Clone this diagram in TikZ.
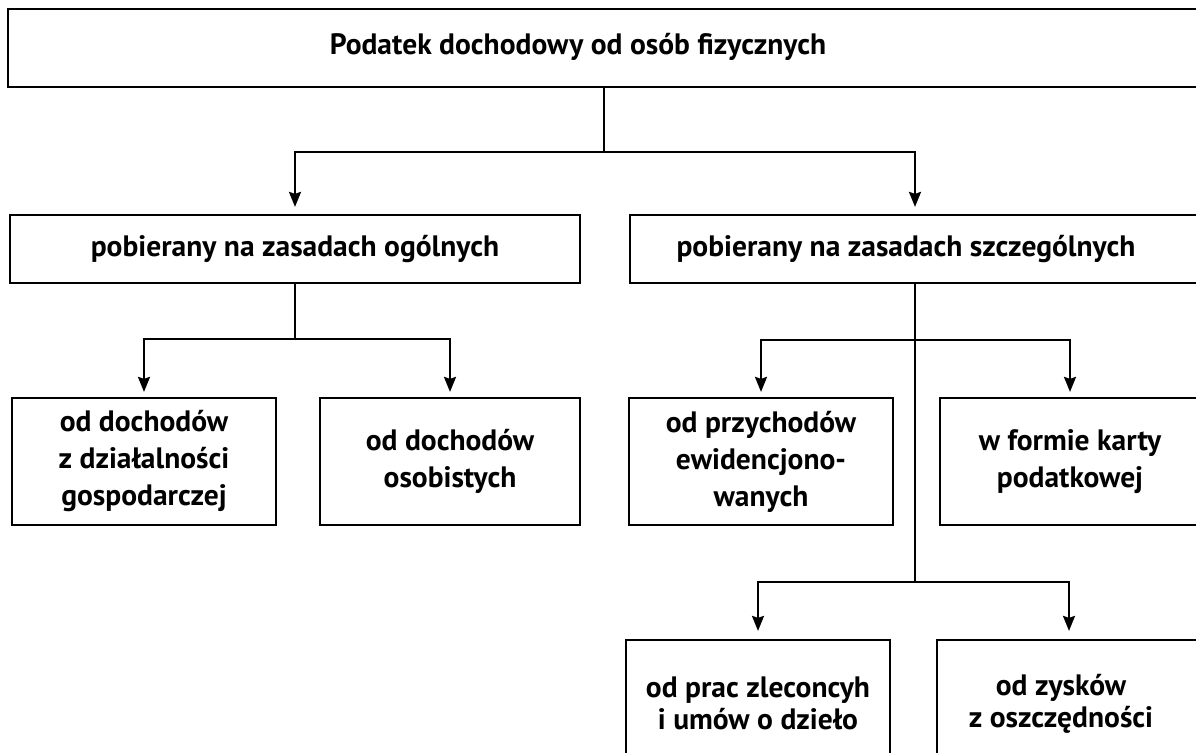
\documentclass[tikz,border=0pt]{standalone}
\usepackage{fontspec}
\setmainfont{PT Sans}
\usetikzlibrary{arrows.meta,calc}
\begin{document}
\begin{tikzpicture}[x=1pt,y=1pt,
  box/.style={draw=black, line width=2.2pt, rectangle, inner sep=0pt, align=center,
    font=\fontsize{29.5}{37}\selectfont\bfseries},
  wide/.style={box, minimum height=68pt, minimum width=570pt},
  small/.style={box, minimum height=127pt, minimum width=262pt},
  tight/.style={font=\fontsize{29.5}{32}\selectfont\bfseries},
  conn/.style={line width=2.2pt, draw=black},
  arr/.style={conn, -{Stealth[length=15pt,width=12pt,inset=2pt]}},
]
\useasboundingbox (0,0) rectangle (1196,-752);
\clip (0,0) rectangle (1196,-752);
\fill[white] (0,0) rectangle (1196,-752);

% top
\node[box, minimum width=1192pt, minimum height=78pt] (top) at (604,-48) {};
\node[font=\fontsize{29.5}{36}\selectfont\bfseries, inner sep=0pt] (toptext) at (578,-47) {Podatek dochodowy od osób fizycznych};

% level 2
\node[wide] (b2l) at (295,-249) {pobierany na zasadach ogólnych};
\node[wide] (b2r) at (915,-249) {\hspace*{-18pt}pobierany na zasadach szczególnych};

% level 3
\node[small, minimum width=264pt] (ba) at (144,-461.5) {od dochodów\\z działalności\\gospodarczej};
\node[small, minimum width=260pt] (bb) at (450,-461.5) {od dochodów\\osobistych};
\node[small, minimum width=264pt] (bc) at (761,-461.5) {od przychodów\\ewidencjono-\\wanych};
\node[small, minimum width=260pt] (bd) at (1070,-461.5) {w formie karty\\podatkowej};

% level 4
\node[small, tight, minimum width=264pt] (be) at (758,-703.5) {od prac zleconcyh\\i umów o dzieło};
\node[small, tight, minimum width=264pt] (bf) at (1069,-703.5) {\hspace*{-16pt}od zysków\\\hspace*{-16pt}z oszczędności};

% connectors
\coordinate (j1) at ($(top.south)+(0,-64)$);
\draw[conn] (top.south) -- (j1);
\draw[arr, shorten >=7pt] (j1) -| (b2l.north);
\draw[arr, shorten >=7pt] (j1) -| (b2r.north);

\coordinate (j2) at ($(b2l.south)+(0,-55)$);
\draw[conn] (b2l.south) -- (j2);
\draw[arr, shorten >=5pt] (j2) -| (ba.north);
\draw[arr, shorten >=5pt] (j2) -| (bb.north);

\coordinate (j3) at ($(b2r.south)+(0,-56)$);
\coordinate (j4) at ($(b2r.south)+(0,-298)$);
\draw[conn] (b2r.south) -- (j4);
\draw[arr, shorten >=5pt] (j3) -| (bc.north);
\draw[arr, shorten >=5pt] (j3) -| (bd.north);
\draw[arr, shorten >=8pt] (j4) -| (be.north);
\draw[arr, shorten >=8pt] (j4) -| (bf.north);
\end{tikzpicture}
\end{document}
